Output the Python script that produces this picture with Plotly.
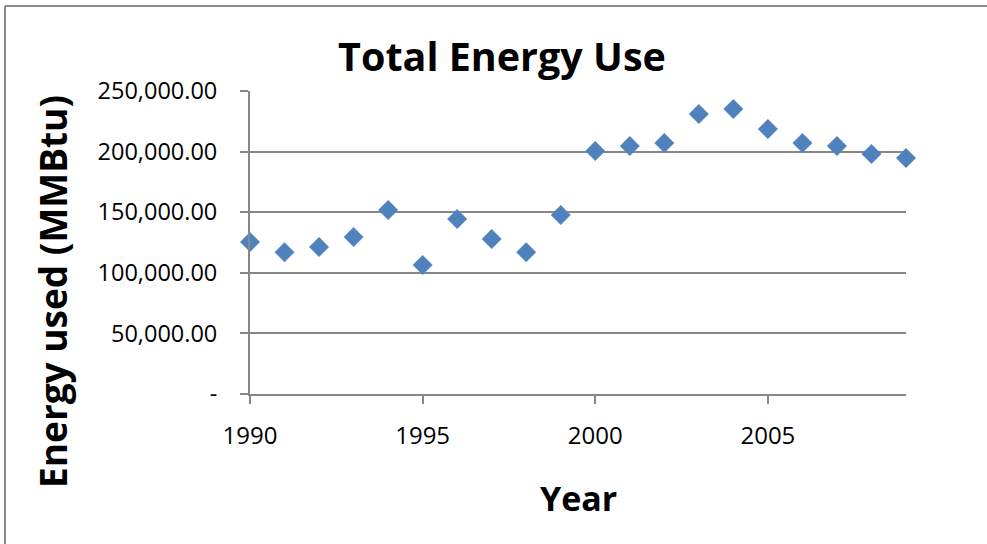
import plotly.graph_objects as go

years = list(range(1990, 2010))
energy = [125400, 117000, 121300, 129500, 151800, 106400, 144400, 127900, 117000, 147700,
          200500, 204600, 207100, 231000, 235100, 218600, 207100, 204600, 198000, 194700]

y_tickvals = [0, 50000, 100000, 150000, 200000, 250000]
y_ticktext = ["-", "50,000.00", "100,000.00", "150,000.00", "200,000.00", "250,000.00"]
x_tickvals = [1990, 1995, 2000, 2005]

FONT = "Open Sans"
GRID = "#878787"

fig = go.Figure()
fig.add_trace(go.Scatter(
    x=years, y=energy, mode="markers",
    marker=dict(symbol="diamond", size=15, color="#4F81BD",
                line=dict(width=0.5, color="#5B8BC6")),
    showlegend=False, cliponaxis=False,
))

W, H = 987, 544
L, T, R, B = 250, 91, 81, 150
pw = W - L - R
ph = H - T - B

fig.update_layout(
    width=W, height=H,
    margin=dict(l=L, r=R, t=T, b=B),
    paper_bgcolor="white", plot_bgcolor="white",
    font=dict(family=FONT, color="black"),
    title=dict(text="<b>Total Energy Use</b>", x=502 / W, xref="container",
               xanchor="center", y=1 - 57 / H, yanchor="middle", yref="container",
               font=dict(size=39.5, family=FONT)),
    xaxis=dict(range=[1990, 2009], tickvals=x_tickvals, showgrid=False,
               showline=True, linecolor=GRID, linewidth=2,
               ticks="outside", ticklen=8, tickcolor=GRID, tickwidth=2,
               ticklabelstandoff=11,
               tickfont=dict(size=24, family=FONT), zeroline=False),
    yaxis=dict(range=[0, 250000], tickvals=y_tickvals, ticktext=y_ticktext,
               showgrid=True, gridcolor=GRID, gridwidth=2,
               showline=True, linecolor=GRID, linewidth=2,
               ticks="outside", ticklen=8, tickcolor=GRID, tickwidth=2,
               ticklabelstandoff=18,
               tickfont=dict(size=23.5, family=FONT), zeroline=False),
)

# axis titles placed as annotations
fig.add_annotation(text="<b>Energy used (MMBtu)</b>", textangle=-90,
                   xref="paper", yref="paper",
                   x=(52 - L) / pw, y=1 - (292 - T) / ph,
                   xanchor="center", yanchor="middle", showarrow=False,
                   font=dict(size=37, family=FONT, color="black"))
fig.add_annotation(text="<b>Year</b>", xref="paper", yref="paper",
                   x=(578 - L) / pw, y=-(498 - (T + ph)) / ph,
                   xanchor="center", yanchor="middle", showarrow=False,
                   font=dict(size=34, family=FONT, color="black"))

# outer chart frame (left and top edges visible)
fig.add_shape(type="line", xref="paper", yref="paper",
              x0=(5 - L) / pw, x1=(5 - L) / pw, y0=1 + (T - 6) / ph, y1=-(B + 5) / ph,
              line=dict(color="#8a8a8a", width=2))
fig.add_shape(type="line", xref="paper", yref="paper",
              x0=(5 - L) / pw, x1=(W + 5 - L) / pw, y0=1 + (T - 6) / ph, y1=1 + (T - 6) / ph,
              line=dict(color="#8a8a8a", width=2))

fig.write_html("out.html", config={"displayModeBar": False},
               post_script="document.body.style.margin='0';")
